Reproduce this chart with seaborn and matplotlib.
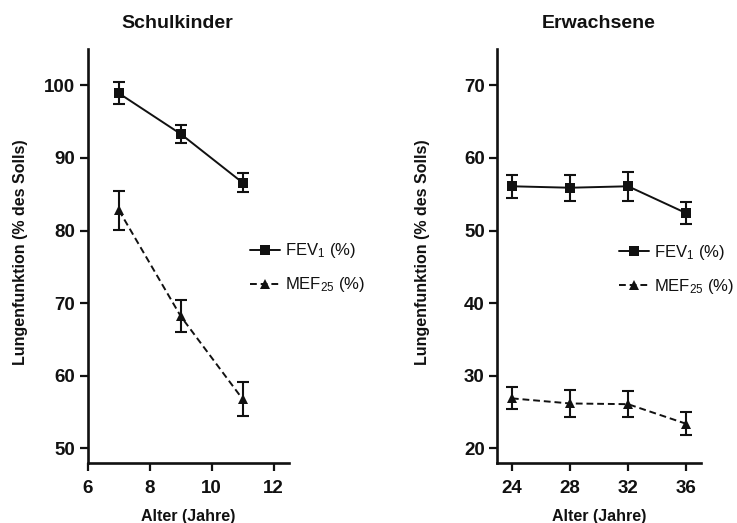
import matplotlib
matplotlib.use("Agg")
import matplotlib.pyplot as plt
import seaborn as sns
import pandas as pd

# ---- data ----
alter_kinder = [7, 9, 11]
fev_kinder = [98.9, 93.3, 86.6]
fev_kinder_err = [1.5, 1.25, 1.3]
mef_kinder = [82.8, 68.2, 56.8]
mef_kinder_err = [2.7, 2.2, 2.3]

alter_erw = [24, 28, 32, 36]
fev_erw = [56.1, 55.9, 56.1, 52.4]
fev_erw_err = [1.6, 1.8, 2.0, 1.5]
mef_erw = [26.9, 26.2, 26.1, 23.4]
mef_erw_err = [1.5, 1.8, 1.75, 1.6]

titles = ["Schulkinder", "Erwachsene"]
series_labels = ["FEV$_1$ (%)", "MEF$_{25}$ (%)"]
xlabel = "Alter (Jahre)"
ylabel = "Lungenfunktion (% des Solls)"
xticks_kinder = [6, 8, 10, 12]
xticks_erw = [24, 28, 32, 36]
yticks_kinder = [50, 60, 70, 80, 90, 100]
yticks_erw = [20, 30, 40, 50, 60, 70]

sns.set_theme(style="ticks")
plt.rcParams["font.family"] = ["Liberation Sans", "DejaVu Sans"]
plt.rcParams["mathtext.default"] = "regular"

fig = plt.figure(figsize=(7.37, 5.23), dpi=100)
ax1 = fig.add_axes([0.1194, 0.1147, 0.2727, 0.7916])
ax2 = fig.add_axes([0.6748, 0.1147, 0.2760, 0.7916])

panels = [
    dict(ax=ax1, x=alter_kinder, fev=fev_kinder, fe=fev_kinder_err, mef=mef_kinder, me=mef_kinder_err,
         xlim=(6, 12.5), ylim=(48, 105), xt=xticks_kinder, yt=yticks_kinder, title=titles[0],
         title_x=0.445, ylab_x=-0.30, leg=(250 / 737, 1 - 268 / 523)),
    dict(ax=ax2, x=alter_erw, fev=fev_erw, fe=fev_erw_err, mef=mef_erw, me=mef_erw_err,
         xlim=(23, 37), ylim=(18, 75), xt=xticks_erw, yt=yticks_erw, title=titles[1],
         title_x=0.5, ylab_x=-0.33, leg=(619 / 737, 1 - 269 / 523)),
]

for p in panels:
    ax = p["ax"]
    df = pd.DataFrame({
        "Alter": list(p["x"]) * 2,
        "Wert": list(p["fev"]) + list(p["mef"]),
        "Err": list(p["fe"]) + list(p["me"]),
        "Messung": [series_labels[0]] * len(p["x"]) + [series_labels[1]] * len(p["x"]),
    })
    sns.lineplot(data=df, x="Alter", y="Wert", style="Messung",
                 markers={series_labels[0]: "s", series_labels[1]: "^"},
                 dashes={series_labels[0]: "", series_labels[1]: (3.5, 2)},
                 color="#111111", linewidth=1.4, markersize=6.5, markeredgewidth=0,
                 ax=ax, legend=True, zorder=3)
    for lab in series_labels:
        sub = df[df["Messung"] == lab]
        ax.errorbar(sub["Alter"], sub["Wert"], yerr=sub["Err"], fmt="none",
                    ecolor="#111111", elinewidth=1.5, capsize=4, capthick=1.5, zorder=2)
    ax.set_xlim(*p["xlim"])
    ax.set_ylim(*p["ylim"])
    ax.set_xticks(p["xt"])
    ax.set_yticks(p["yt"])
    sns.despine(ax=ax)
    for s in ["left", "bottom"]:
        ax.spines[s].set_linewidth(1.9)
        ax.spines[s].set_color("#111111")
    ax.tick_params(axis="both", length=6, width=1.6, color="#111111", pad=3,
                   labelsize=13.5, labelcolor="#111111")
    ax.tick_params(axis="x", pad=6)
    for t in ax.get_xticklabels() + ax.get_yticklabels():
        t.set_fontweight("bold")
    ax.set_xlabel(xlabel, fontsize=11.5, fontweight="bold", color="#111111", labelpad=9)
    ax.set_ylabel(ylabel, fontsize=11.5, fontweight="bold", color="#111111")
    ax.yaxis.set_label_coords(p["ylab_x"], 0.51)
    ax.set_title(p["title"], fontsize=14, fontweight="bold", color="#111111", pad=15, x=p["title_x"])
    handles, labels = ax.get_legend_handles_labels()
    leg = ax.legend(handles, labels, loc="center left", bbox_to_anchor=p["leg"],
                    bbox_transform=fig.transFigure, frameon=False, fontsize=12,
                    handlelength=1.8, handletextpad=0.3, labelspacing=0.9,
                    borderpad=0, borderaxespad=0)
    for t in leg.get_texts():
        t.set_color("#111111")

fig.savefig("out.png", dpi=100)
